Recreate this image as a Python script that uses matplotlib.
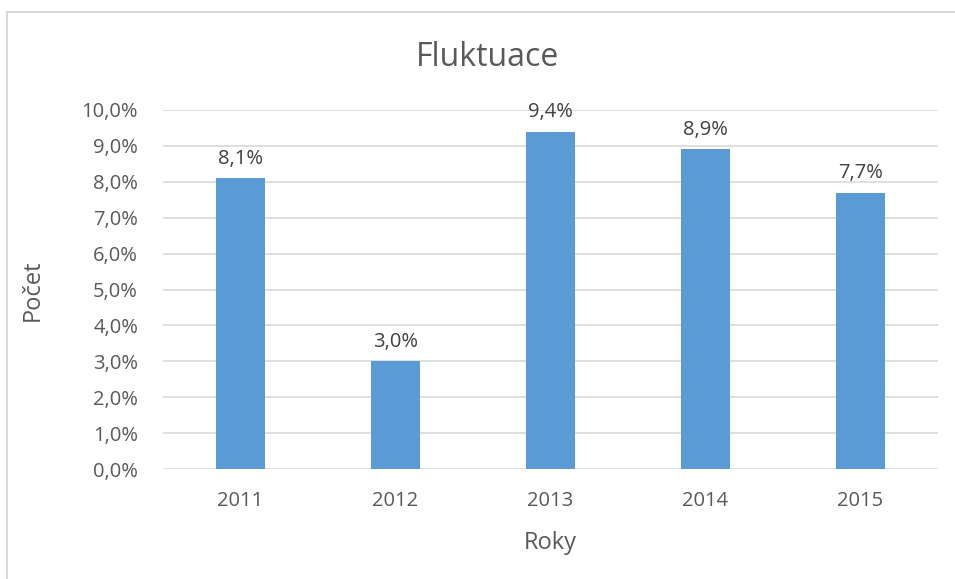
import matplotlib.pyplot as plt
from matplotlib.lines import Line2D
from matplotlib.ticker import FuncFormatter

years = ["2011", "2012", "2013", "2014", "2015"]
values = [0.081, 0.030, 0.094, 0.089, 0.077]
labels = ["8,1%", "3,0%", "9,4%", "8,9%", "7,7%"]

plt.rcParams['font.family'] = ['Open Sans', 'DejaVu Sans']
gray = '#595959'

fig = plt.figure(figsize=(9.55, 5.79), dpi=100)
ax = fig.add_axes([163/955, 1 - 469/579, (938 - 163)/955, (469 - 110)/579])

x = range(len(years))
ax.bar(x, values, width=0.31, color='#5b9bd5', zorder=3)
for i, v in enumerate(values):
    ax.annotate(labels[i], (i, v), xytext=(0, 14), textcoords='offset points',
                ha='center', va='center', fontsize=14.5, color='#404040')

ax.set_xlim(-0.5, len(years) - 0.5)
ax.set_ylim(0, 0.10)
ax.set_yticks([i / 100 for i in range(11)])
ax.yaxis.set_major_formatter(FuncFormatter(lambda v, p: f"{v*100:.1f}%".replace('.', ',')))
ax.set_xticks(list(x))
ax.set_xticklabels(years)
ax.grid(axis='y', color='#d9d9d9', linewidth=1.2, zorder=0)
for s in ax.spines.values():
    s.set_visible(False)
ax.tick_params(length=0, labelsize=14.5, colors=gray)
ax.tick_params(axis='y', pad=18)
ax.tick_params(axis='x', pad=16)

fig.text(550/955, 1 - 543/579, "Roky", ha='center', va='center', fontsize=17, color=gray)
fig.text(33/955, 1 - 290/579, "Počet", ha='center', va='center', rotation=90, fontsize=17, color=gray)
fig.text(487/955, 1 - 57/579, "Fluktuace", ha='center', va='center', fontsize=23, color=gray)

# chart frame
fig.add_artist(Line2D([6.5/955, 1], [1 - 12/579] * 2, color='#d9d9d9', linewidth=1.5))
fig.add_artist(Line2D([6.5/955] * 2, [0, 1 - 12/579], color='#d9d9d9', linewidth=1.5))

fig.savefig('out.png', dpi=100)
